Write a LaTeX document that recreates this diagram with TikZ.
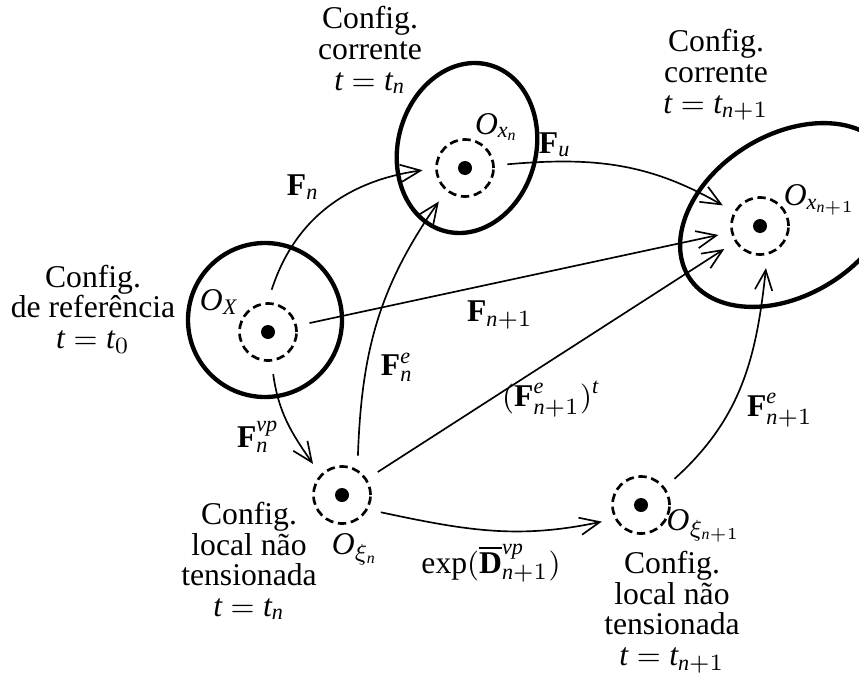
\documentclass[tikz,border=0pt]{standalone}
\usepackage{fontspec}
\setmainfont{Liberation Serif}
\usetikzlibrary{arrows.meta}
\newcommand{\mi}[1]{\mathit{#1}}
\newcommand{\bF}{\mathbf{F}}
\begin{document}
\begin{tikzpicture}[x=0.3pt,y=0.3pt,
  every node/.style={font=\fontsize{9.5}{9.2}\selectfont},
  pt/.style={circle,draw,dash pattern=on 2.5pt off 1.4pt,line width=0.8pt,minimum size=17.1pt,inner sep=0pt,outer sep=4.2pt},
  body/.style={line width=1.3pt},
  arr/.style={line width=0.5pt,-{Straight Barb[length=6pt,width=5.2pt]}},
  txt/.style={align=center,inner sep=0pt},
  lbl/.style={inner sep=0pt}]
\useasboundingbox (0,0) rectangle (859,-680);
\clip (0,0) rectangle (859,-680);
% bodies
\draw[body] (265,-320) circle[radius=77];
\draw[body,rotate around={-15:(467,-148)}] (467,-148) ellipse[x radius=69,y radius=86];
\draw[body,rotate around={32:(788,-215)}] (788,-215) ellipse[x radius=117,y radius=80];
% points
\node[pt] (X) at (268,-332) {};
\node[pt] (xn) at (465,-168) {};
\node[pt] (xn1) at (760,-226) {};
\node[pt] (xi) at (342,-495) {};
\node[pt] (xi1) at (641,-505) {};
\foreach \p in {X,xn,xn1,xi,xi1} \fill (\p.center) circle[radius=2.1pt];
% point labels
\node[lbl] (lX) at (219,-302) {$\mi{O}_{\mi{X}}$};
\node[lbl] (lxn) at (497,-127) {$\mi{O}_{\mi{x}_{\mi{n}}}$};
\node[lbl] (lxn1) at (820,-200) {$\mi{O}_{\mi{x}_{\mi{n}+1}}$};
\node[lbl] (lxi) at (355,-549) {$\mi{O}_{\xi_{\mi{n}}}$};
\node[lbl] (lxi1) at (704,-526) {$\mi{O}_{\xi_{\mi{n}+1}}$};
% configuration texts
\node[txt] (c0) at (93,-309) {Config.\\de referência\\$\mi{t}=\mi{t}_0$};
\node[txt] (cn) at (370,-50) {Config.\\corrente\\$\mi{t}=\mi{t}_{\mi{n}}$};
\node[txt] (cn1) at (716,-75) {Config.\\corrente\\$\mi{t}=\mi{t}_{\mi{n}+1}$};
\node[txt] (cl) at (249,-561) {Config.\\local não\\tensionada\\$\mi{t}=\mi{t}_{\mi{n}}$};
\node[txt] (cl1) at (672,-612) {Config.\\local não\\tensionada\\$\mi{t}=\mi{t}_{\mi{n}+1}$};
% connectors
\draw[arr] (X.85) to[out=72,in=188] (xn.183);
\draw[arr] (xn.5) to[out=5,in=150] (xn1.151);
\draw[arr] (X) -- (xn1);
\draw[arr] (X.-83) to[out=-82,in=125] (xi.133);
\draw[arr] (xi.68) to[out=88,in=235] (xn.232);
\draw[arr] (xi) -- (xn1);
\draw[arr] (xi.-24) to[out=-12,in=192] (xi1.203);
\draw[arr] (xi1.38) to[out=42,in=-96] (xn1.-82);
% connector labels
\node[lbl] (lFn) at (303,-187) {$\bF_{\mi{n}}$};
\node[lbl] (lFu) at (555,-145) {$\bF_{\mi{u}}$};
\node[lbl] (lFn1) at (500,-315) {$\bF_{\mi{n}+1}$};
\node[lbl] (lFen) at (397,-367) {$\bF^{\mi{e}}_{\mi{n}}$};
\node[lbl] (lFt) at (551,-399) {$(\bF^{\mi{e}}_{\mi{n}+1})^{\mi{t}}$};
\node[lbl] (lFvp) at (258,-437) {$\bF^{\mi{vp}}_{\mi{n}}$};
\node[lbl] (lFe1) at (780,-410) {$\bF^{\mi{e}}_{\mi{n}+1}$};
\node[lbl] (lexp) at (491,-563) {$\mathrm{exp}(\overline{\mathbf{D}}^{\mi{vp}}_{\mi{n}+1})$};
\end{tikzpicture}
\end{document}
